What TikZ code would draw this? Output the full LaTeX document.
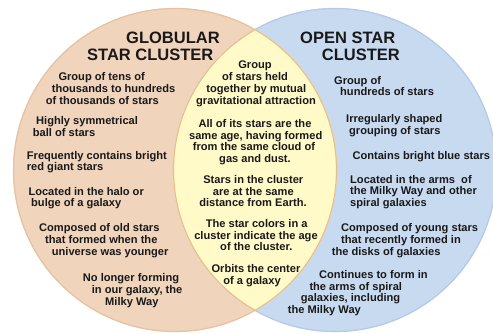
\documentclass[tikz,border=0pt]{standalone}
\usepackage{fontspec}
\setmainfont{Liberation Sans}
\begin{document}
\begin{tikzpicture}[x=1pt,y=-1pt,
  txt/.style={inner sep=0pt,font=\fontsize{11.1}{11.7}\selectfont\bfseries,text=black!90},
  ttl/.style={inner sep=0pt,font=\fontsize{16.5}{17}\selectfont\bfseries,text=black!90}]
\definecolor{peach}{HTML}{F0D4BC}
\definecolor{peachedge}{HTML}{E6C2A2}
\definecolor{lensfill}{HTML}{FFFAC8}
\definecolor{lensedge}{HTML}{E8C08E}
\definecolor{bluefill}{HTML}{C8DAF0}
\definecolor{blueedge}{HTML}{B4CAE8}
\clip (0,0) rectangle (493,333);
\fill[white] (0,0) rectangle (493,333);
\coordinate (GC) at (175,170);
\coordinate (OC) at (335,170);
\fill[peach] (GC) circle[radius=162];
\fill[bluefill] (OC) circle[radius=162];
\draw[peachedge,line width=1.2pt] (GC) circle[radius=161.5];
\draw[blueedge,line width=1.2pt] (OC) circle[radius=161.5];
\begin{scope}
  \clip (GC) circle[radius=162];
  \fill[lensfill] (OC) circle[radius=162];
  \draw[lensedge,line width=1.2pt] (OC) circle[radius=161.5];
\end{scope}
\begin{scope}
  \clip (OC) circle[radius=162];
  \draw[lensedge,line width=1.2pt] (GC) circle[radius=161.5];
\end{scope}
\newcommand\lw[4]{\node[txt,anchor=base west] (#1) at (#2,#3) {#4};}
\newcommand\lc[4]{\node[txt,anchor=base] (#1) at (#2,#3) {#4};}
% titles
\node[ttl,anchor=base west] (t1) at (126,43) {GLOBULAR};
\node[ttl,anchor=base west] (t2) at (87,60) {STAR CLUSTER};
\node[ttl,anchor=base west] (t3) at (300,43) {OPEN STAR};
\node[ttl,anchor=base west] (t4) at (321.7,60) {CLUSTER};
% globular
\lw{g1a}{58.3}{80.7}{Group of tens of}
\lw{g1b}{51.7}{92.3}{thousands to hundreds}
\lw{g1c}{45.7}{104}{of thousands of stars}
\lw{g2a}{36}{124}{Highly symmetrical}
\lw{g2b}{32.7}{136.3}{ball of stars}
\lw{g3a}{26.7}{159}{Frequently contains bright}
\lw{g3b}{26.7}{170.5}{red giant stars}
\lw{g4a}{28.3}{195}{Located in the halo or}
\lw{g4b}{31}{206.7}{bulge of a galaxy}
\lw{g5a}{39}{231.7}{Composed of old stars}
\lw{g5b}{45}{243.3}{that formed when the}
\lw{g5c}{51.7}{255}{universe was younger}
\lw{g6a}{82.7}{281.7}{No longer forming}
\lw{g6b}{91.7}{293.3}{in our galaxy, the}
\lw{g6c}{105}{305}{Milky Way}
% common
\lc{c1a}{255}{68.3}{Group}
\lc{c1b}{255}{80.7}{of stars held}
\lc{c1c}{256.3}{92.7}{together by mutual}
\lc{c1d}{256}{104}{gravitational attraction}
\lc{c2a}{255}{127.3}{All of its stars are the}
\lc{c2b}{255.7}{139}{same age, having formed}
\lc{c2c}{254}{150.7}{from the same cloud of}
\lc{c2d}{255}{162}{gas and dust.}
\lc{c3a}{253.3}{183.3}{Stars in the cluster}
\lc{c3b}{253.3}{195}{are at the same}
\lc{c3c}{253}{206.7}{distance from Earth.}
\lc{c4a}{256.7}{227.3}{The star colors in a}
\lc{c4b}{256}{239}{cluster indicate the age}
\lc{c4c}{256.3}{250.7}{of the cluster.}
\lc{c5a}{256}{272.3}{Orbits the center}
\lc{c5b}{252}{284}{of a galaxy}
% open
\lw{o1a}{334}{84}{Group of}
\lw{o1b}{340}{95.7}{hundreds of stars}
\lw{o2a}{346}{122.3}{Irregularly shaped}
\lw{o2b}{349}{134}{grouping of stars}
\lw{o3a}{352.3}{159}{Contains bright blue stars}
\lw{o4a}{350}{183}{Located in the arms\ \ of}
\lw{o4b}{350}{194.7}{the Milky Way and other}
\lw{o4c}{350}{206.7}{spiral galaxies}
\lw{o5a}{341}{231.7}{Composed of young stars}
\lw{o5b}{341}{243.3}{that recently formed in}
\lw{o5c}{331.7}{255}{the disks of galaxies}
\lw{o6a}{319}{278.3}{Continues to form in}
\lw{o6b}{309.3}{290}{the arms of spiral}
\lw{o6c}{300.7}{301.3}{galaxies, including}
\lw{o6d}{287.7}{313.3}{the Milky Way}
\end{tikzpicture}
\end{document}
